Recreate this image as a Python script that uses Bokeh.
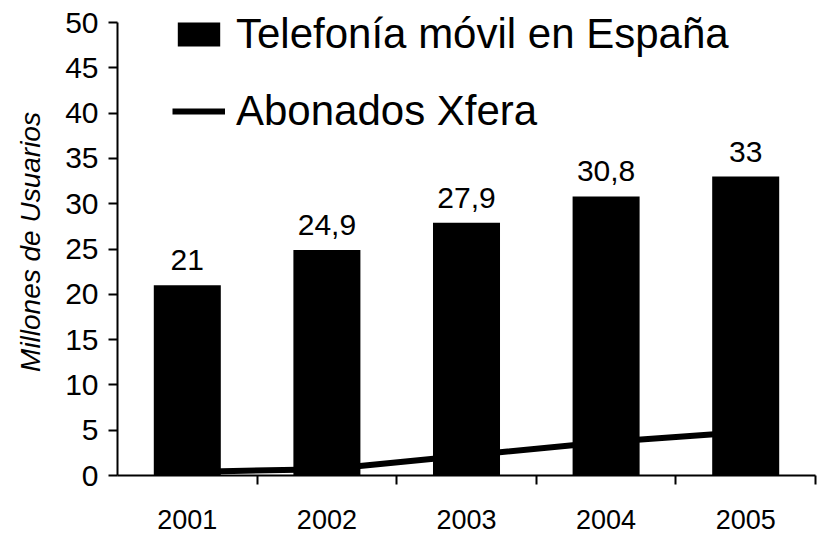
from bokeh.plotting import figure
from bokeh.models import Range1d, FixedTicker, Legend, LegendItem
from bokeh.core.properties import value
from bokeh.embed import file_html
from bokeh.resources import INLINE

years = [2001, 2002, 2003, 2004, 2005]
telefonia = [21, 24.9, 27.9, 30.8, 33]
telefonia_labels = ["21", "24,9", "27,9", "30,8", "33"]
xfera = [0.4, 0.7, 2.2, 3.7, 4.8]
y_ticks = [0, 5, 10, 15, 20, 25, 30, 35, 40, 45, 50]
year_labels = {y: str(y) for y in years}

FONT = "Liberation Sans"

p = figure(width=820, height=544, output_backend="svg", toolbar_location=None,
           x_range=Range1d(years[0] - 0.5, years[-1] + 0.5),
           y_range=Range1d(0, 51.55),
           min_border_left=117, min_border_right=5, min_border_top=8, min_border_bottom=69)
p.grid.visible = False
p.outline_line_color = None
p.background_fill_color = "white"
p.border_fill_color = "white"

line = p.line(years, xfera, line_color="black", line_width=6)
bars = p.vbar(x=years, top=telefonia, width=0.48, fill_color="black", line_color=None)
p.text(x=years, y=telefonia, text=telefonia_labels, text_align="center",
       text_baseline="bottom", y_offset=-15, text_font=value(FONT),
       text_font_size="30px", text_color="black")

xa = p.xaxis[0]
xa.ticker = FixedTicker(ticks=years, minor_ticks=[y + 0.5 for y in years])
xa.major_label_overrides = year_labels
xa.major_tick_in = 0
xa.major_tick_out = 0
xa.major_tick_line_color = None
xa.minor_tick_in = 0
xa.minor_tick_out = 9
xa.minor_tick_line_width = 2
xa.minor_tick_line_color = "black"
xa.axis_line_width = 2
xa.axis_line_color = "black"
xa.major_label_standoff = 25
xa.major_label_text_font = FONT
xa.major_label_text_font_size = "27px"
xa.major_label_text_color = "black"

ya = p.yaxis[0]
ya.ticker = FixedTicker(ticks=y_ticks, minor_ticks=[])
ya.bounds = (y_ticks[0], y_ticks[-1])
ya.major_tick_in = 0
ya.major_tick_out = 9
ya.major_tick_line_width = 2
ya.major_tick_line_color = "black"
ya.axis_line_width = 2
ya.axis_line_color = "black"
ya.major_label_standoff = 10
ya.major_label_text_font = FONT
ya.major_label_text_font_size = "30px"
ya.major_label_text_color = "black"
ya.axis_label = "Millones de Usuarios"
ya.axis_label_text_font = FONT
ya.axis_label_text_font_style = "italic"
ya.axis_label_text_font_size = "28px"
ya.axis_label_text_color = "black"
ya.axis_label_standoff = 16

legend = Legend(items=[LegendItem(label="Telefonía móvil en España", renderers=[bars]),
                       LegendItem(label="Abonados Xfera", renderers=[line])],
                location=(55, 340), glyph_width=53, glyph_height=30,
                label_text_font=FONT, label_text_font_size="42px", label_text_color="black",
                label_standoff=11, spacing=29, padding=0, margin=0,
                border_line_color=None, background_fill_alpha=0)
p.add_layout(legend)

open("out.html", "w").write(file_html(p, INLINE))
